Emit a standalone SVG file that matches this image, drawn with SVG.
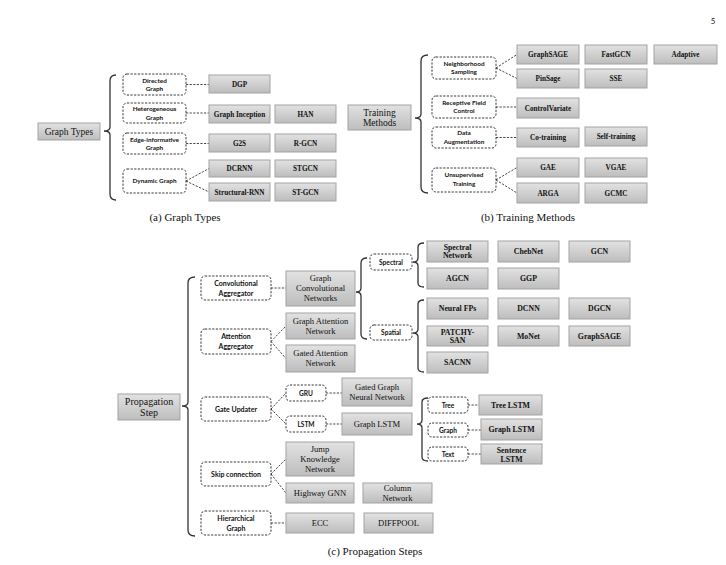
<svg xmlns="http://www.w3.org/2000/svg" width="726" height="565" viewBox="0 0 726 565">
<defs>
<linearGradient id="gg" x1="0" y1="0" x2="0" y2="1">
<stop offset="0" stop-color="#e2e2e2"/>
<stop offset="1" stop-color="#bdbdbd"/>
</linearGradient>
<style>
.g{fill:url(#gg);stroke:#a3a3a3;stroke-width:1}
.d{fill:#fff;stroke:#222;stroke-width:0.9;stroke-dasharray:2.2,1.4}
.tb{font-family:"Liberation Serif",serif;font-weight:bold;font-size:7.2px;fill:#111;text-anchor:middle}
.tc{font-family:"Liberation Serif",serif;font-weight:bold;font-size:7.8px;fill:#111;text-anchor:middle}
.tr{font-family:"Liberation Serif",serif;font-size:8.6px;fill:#111;text-anchor:middle}
.tm{font-family:"Liberation Serif",serif;font-size:9.5px;fill:#111;text-anchor:middle}
.ts{font-family:Lato,"Liberation Sans",sans-serif;font-weight:bold;font-size:6.4px;fill:#111;text-anchor:middle}
.cap{font-family:"Liberation Serif",serif;font-size:11px;fill:#111;text-anchor:middle}
.c{fill:none;stroke:#333;stroke-width:0.9;stroke-dasharray:2.2,1.4}
.br{fill:none;stroke:#333;stroke-width:1.3}
</style>
</defs>
<rect width="726" height="565" fill="#fff"/>
<text x="713" y="24" font-family="Lato,'Liberation Sans',sans-serif" font-size="8" fill="#222" text-anchor="middle">5</text>

<g id="connectors">
<path class="c" d="M186,84.5H209M186,113H209M186,143.5H209M186,181L209,168.5M186,181L209,192"/>
<path class="c" d="M496,68L517,54.5M496,68L517,78.5M496,107H517M496,137.5H517M496,180L517,167.5M496,180L517,193"/>
<path class="c" d="M271,288H286M271,341.5L286,326M271,341.5L286,358.5M271,409L286,393M271,409L286,424M326,393H342M326,424H342M271,474L286,459M271,474L286,493M271,523H286M468,405H479M468,430H481M468,454H481"/>
</g>

<g id="braces">
<path class="br" d="M116,75Q110,75 110,81V127Q110,131 104,131Q110,131 110,135V194Q110,200 116,200"/>
<path class="br" d="M428,55Q421,55 421,61V114Q421,118 415,118Q421,118 421,122V187Q421,193 428,193"/>
<path class="br" d="M195,277Q188,277 188,283V402Q188,406 182,406Q188,406 188,410V530Q188,536 195,536"/>
<path class="br" d="M367,258Q361,258 361,263V288Q361,292 356,292Q361,292 361,296V334Q361,339 367,339"/>
<path class="br" d="M424,243Q418,243 418,247V258Q418,262 413,262Q418,262 418,266V283Q418,287 424,287"/>
<path class="br" d="M424,300Q418,300 418,304V329Q418,333 413,333Q418,333 418,337V368Q418,372 424,372"/>
<path class="br" d="M428,398Q422,398 422,402V420Q422,424 417,424Q422,424 422,428V457Q422,461 428,461"/>
</g>

<!-- (a) Graph Types -->
<g id="graph-types"><rect class="g" x="38" y="123" width="62" height="17"/><text class="tm" x="69" y="134.5">Graph Types</text></g>
<g id="directed"><rect class="d" x="123" y="74" width="63" height="21" rx="4"/><text class="ts" x="154.5" y="82.5">Directed</text><text class="ts" x="154.5" y="91">Graph</text></g>
<g id="hetero"><rect class="d" x="123" y="103" width="63" height="20" rx="4"/><text class="ts" x="154.5" y="111">Heterogeneous</text><text class="ts" x="154.5" y="119.5">Graph</text></g>
<g id="edgeinfo"><rect class="d" x="123" y="133" width="63" height="21" rx="4"/><text class="ts" x="154.5" y="141.5">Edge-informative</text><text class="ts" x="154.5" y="150">Graph</text></g>
<g id="dynamic"><rect class="d" x="123" y="169" width="63" height="24" rx="4"/><text class="ts" x="154.5" y="183">Dynamic Graph</text></g>
<g id="dgp"><rect class="g" x="209" y="75" width="61" height="18"/><text class="tb" x="239.5" y="86.5">DGP</text></g>
<g id="graph-inception"><rect class="g" x="209" y="105" width="61" height="18"/><text class="tb" x="239.5" y="116.5">Graph Inception</text></g>
<g id="han"><rect class="g" x="275" y="105" width="61" height="18"/><text class="tb" x="305.5" y="116.5">HAN</text></g>
<g id="g2s"><rect class="g" x="209" y="134" width="61" height="18"/><text class="tb" x="239.5" y="145.5">G2S</text></g>
<g id="rgcn"><rect class="g" x="275" y="134" width="61" height="18"/><text class="tb" x="305.5" y="145.5">R-GCN</text></g>
<g id="dcrnn"><rect class="g" x="209" y="160" width="61" height="17"/><text class="tb" x="239.5" y="171">DCRNN</text></g>
<g id="stgcn"><rect class="g" x="275" y="160" width="61" height="17"/><text class="tb" x="305.5" y="171">STGCN</text></g>
<g id="structural-rnn"><rect class="g" x="209" y="183" width="61" height="18"/><text class="tb" x="239.5" y="194.5">Structural-RNN</text></g>
<g id="st-gcn"><rect class="g" x="275" y="183" width="61" height="18"/><text class="tb" x="305.5" y="194.5">ST-GCN</text></g>
<text class="cap" x="185" y="221">(a) Graph Types</text>

<!-- (b) Training Methods -->
<g id="training-methods"><rect class="g" x="348" y="105" width="63" height="25"/><text class="tm" x="379.5" y="115.5">Training</text><text class="tm" x="379.5" y="125.5">Methods</text></g>
<g id="neighborhood"><rect class="d" x="432" y="57" width="64" height="22" rx="4"/><text class="ts" x="464" y="65.5">Neighborhood</text><text class="ts" x="464" y="74">Sampling</text></g>
<g id="receptive"><rect class="d" x="432" y="96" width="64" height="22" rx="4"/><text class="ts" x="464" y="104.5">Receptive Field</text><text class="ts" x="464" y="113">Control</text></g>
<g id="data-aug"><rect class="d" x="432" y="127" width="64" height="21" rx="4"/><text class="ts" x="464" y="135">Data</text><text class="ts" x="464" y="143.5">Augmentation</text></g>
<g id="unsupervised"><rect class="d" x="432" y="168" width="64" height="24" rx="4"/><text class="ts" x="464" y="177">Unsupervised</text><text class="ts" x="464" y="186">Training</text></g>
<g id="graphsage-b"><rect class="g" x="517" y="45" width="62" height="19"/><text class="tb" x="548" y="57">GraphSAGE</text></g>
<g id="fastgcn"><rect class="g" x="585" y="45" width="62" height="19"/><text class="tb" x="616" y="57">FastGCN</text></g>
<g id="adaptive"><rect class="g" x="654" y="45" width="63" height="19"/><text class="tb" x="685.5" y="57">Adaptive</text></g>
<g id="pinsage"><rect class="g" x="517" y="69" width="62" height="19"/><text class="tb" x="548" y="81">PinSage</text></g>
<g id="sse"><rect class="g" x="585" y="69" width="62" height="19"/><text class="tb" x="616" y="81">SSE</text></g>
<g id="controlvariate"><rect class="g" x="517" y="98" width="62" height="20"/><text class="tb" x="548" y="110.5">ControlVariate</text></g>
<g id="co-training"><rect class="g" x="517" y="128" width="62" height="19"/><text class="tb" x="548" y="140">Co-training</text></g>
<g id="self-training"><rect class="g" x="585" y="127" width="62" height="19"/><text class="tb" x="616" y="139">Self-training</text></g>
<g id="gae"><rect class="g" x="517" y="158" width="62" height="19"/><text class="tb" x="548" y="170">GAE</text></g>
<g id="vgae"><rect class="g" x="585" y="158" width="62" height="19"/><text class="tb" x="616" y="170">VGAE</text></g>
<g id="arga"><rect class="g" x="517" y="183" width="62" height="20"/><text class="tb" x="548" y="195.5">ARGA</text></g>
<g id="gcmc"><rect class="g" x="585" y="183" width="62" height="20"/><text class="tb" x="616" y="195.5">GCMC</text></g>
<text class="cap" x="528" y="221">(b) Training Methods</text>

<!-- (c) Propagation Steps -->
<g id="propagation-step"><rect class="g" x="118" y="394" width="62" height="26"/><text class="tm" x="149" y="405" style="font-size:10px">Propagation</text><text class="tm" x="149" y="415.5" style="font-size:10px">Step</text></g>
<g id="conv-agg"><rect class="d" x="201" y="276" width="70" height="24" rx="4"/><text class="ts" x="236" y="285.5" style="font-size:7px">Convolutional</text><text class="ts" x="236" y="295.5" style="font-size:7px">Aggregator</text></g>
<g id="att-agg"><rect class="d" x="201" y="329" width="70" height="25" rx="4"/><text class="ts" x="236" y="339" style="font-size:7px">Attention</text><text class="ts" x="236" y="349" style="font-size:7px">Aggregator</text></g>
<g id="gate-updater"><rect class="d" x="201" y="397" width="70" height="24" rx="4"/><text class="ts" x="236" y="411.5" style="font-size:7px">Gate Updater</text></g>
<g id="skip"><rect class="d" x="201" y="462" width="70" height="24" rx="4"/><text class="ts" x="236" y="476.5" style="font-size:7px">Skip connection</text></g>
<g id="hierarchical"><rect class="d" x="201" y="511" width="70" height="24" rx="4"/><text class="ts" x="236" y="520.5" style="font-size:7px">Hierarchical</text><text class="ts" x="236" y="530.5" style="font-size:7px">Graph</text></g>
<g id="gru"><rect class="d" x="286" y="385" width="40" height="16" rx="4"/><text class="ts" x="306" y="395.5" style="font-size:6.6px">GRU</text></g>
<g id="lstm"><rect class="d" x="286" y="416" width="40" height="16" rx="4"/><text class="ts" x="306" y="426.5" style="font-size:6.6px">LSTM</text></g>
<g id="spectral"><rect class="d" x="370" y="254" width="42" height="16" rx="4"/><text class="ts" x="391" y="264.5" style="font-size:6.6px">Spectral</text></g>
<g id="spatial"><rect class="d" x="370" y="325" width="42" height="15" rx="4"/><text class="ts" x="391" y="335" style="font-size:6.6px">Spatial</text></g>
<g id="tree"><rect class="d" x="428" y="397" width="40" height="16" rx="4"/><text class="ts" x="448" y="407.5" style="font-size:6.6px">Tree</text></g>
<g id="graph"><rect class="d" x="428" y="423" width="40" height="14" rx="4"/><text class="ts" x="448" y="432.5" style="font-size:6.6px">Graph</text></g>
<g id="text"><rect class="d" x="428" y="447" width="40" height="14" rx="4"/><text class="ts" x="448" y="456.5" style="font-size:6.6px">Text</text></g>

<g id="gcn-main"><rect class="g" x="286" y="271" width="69" height="35"/><text class="tr" x="320.5" y="281">Graph</text><text class="tr" x="320.5" y="291">Convolutional</text><text class="tr" x="320.5" y="301">Networks</text></g>
<g id="gat"><rect class="g" x="286" y="313" width="69" height="26"/><text class="tr" x="320.5" y="324">Graph Attention</text><text class="tr" x="320.5" y="334">Network</text></g>
<g id="gated-att"><rect class="g" x="286" y="345" width="69" height="27"/><text class="tr" x="320.5" y="356">Gated Attention</text><text class="tr" x="320.5" y="366">Network</text></g>
<g id="ggnn"><rect class="g" x="342" y="378" width="70" height="28"/><text class="tr" x="377" y="389.5">Gated Graph</text><text class="tr" x="377" y="399.5">Neural Network</text></g>
<g id="graph-lstm-main"><rect class="g" x="342" y="413" width="70" height="22"/><text class="tr" x="377" y="426.5">Graph LSTM</text></g>
<g id="jump"><rect class="g" x="286" y="442" width="68" height="34"/><text class="tr" x="320" y="451.5">Jump</text><text class="tr" x="320" y="461.5">Knowledge</text><text class="tr" x="320" y="471.5">Network</text></g>
<g id="highway"><rect class="g" x="286" y="483" width="68" height="20"/><text class="tr" x="320" y="495.5">Highway GNN</text></g>
<g id="column"><rect class="g" x="363" y="483" width="69" height="20"/><text class="tr" x="397.5" y="490.5">Column</text><text class="tr" x="397.5" y="500.5">Network</text></g>
<g id="ecc"><rect class="g" x="286" y="513" width="68" height="20"/><text class="tr" x="320" y="525.5">ECC</text></g>
<g id="diffpool"><rect class="g" x="364" y="513" width="69" height="20"/><text class="tr" x="398.5" y="525.5">DIFFPOOL</text></g>

<g id="spectral-network"><rect class="g" x="427" y="241" width="61" height="21"/><text class="tc" x="457.5" y="249.5">Spectral</text><text class="tc" x="457.5" y="258">Network</text></g>
<g id="chebnet"><rect class="g" x="498" y="241" width="61" height="21"/><text class="tc" x="528.5" y="254">ChebNet</text></g>
<g id="gcn"><rect class="g" x="569" y="241" width="61" height="21"/><text class="tc" x="599.5" y="254">GCN</text></g>
<g id="agcn"><rect class="g" x="427" y="268" width="61" height="21"/><text class="tc" x="457.5" y="281">AGCN</text></g>
<g id="ggp"><rect class="g" x="498" y="268" width="61" height="21"/><text class="tc" x="528.5" y="281">GGP</text></g>
<g id="neural-fps"><rect class="g" x="427" y="298" width="61" height="21"/><text class="tc" x="457.5" y="311">Neural FPs</text></g>
<g id="dcnn"><rect class="g" x="498" y="298" width="61" height="21"/><text class="tc" x="528.5" y="311">DCNN</text></g>
<g id="dgcn"><rect class="g" x="569" y="298" width="61" height="21"/><text class="tc" x="599.5" y="311">DGCN</text></g>
<g id="patchy-san"><rect class="g" x="427" y="326" width="61" height="20"/><text class="tc" x="457.5" y="334.5">PATCHY-</text><text class="tc" x="457.5" y="343">SAN</text></g>
<g id="monet"><rect class="g" x="498" y="326" width="61" height="20"/><text class="tc" x="528.5" y="338.5">MoNet</text></g>
<g id="graphsage-c"><rect class="g" x="569" y="326" width="61" height="20"/><text class="tc" x="599.5" y="338.5">GraphSAGE</text></g>
<g id="sacnn"><rect class="g" x="427" y="352" width="61" height="21"/><text class="tc" x="457.5" y="365">SACNN</text></g>
<g id="tree-lstm"><rect class="g" x="479" y="395" width="63" height="20"/><text class="tc" x="510.5" y="407.5">Tree LSTM</text></g>
<g id="graph-lstm-leaf"><rect class="g" x="481" y="419" width="61" height="21"/><text class="tc" x="511.5" y="432">Graph LSTM</text></g>
<g id="sentence-lstm"><rect class="g" x="481" y="444" width="61" height="20"/><text class="tc" x="511.5" y="452.5">Sentence</text><text class="tc" x="511.5" y="461.5">LSTM</text></g>
<text class="cap" x="375" y="555">(c) Propagation Steps</text>
</svg>
